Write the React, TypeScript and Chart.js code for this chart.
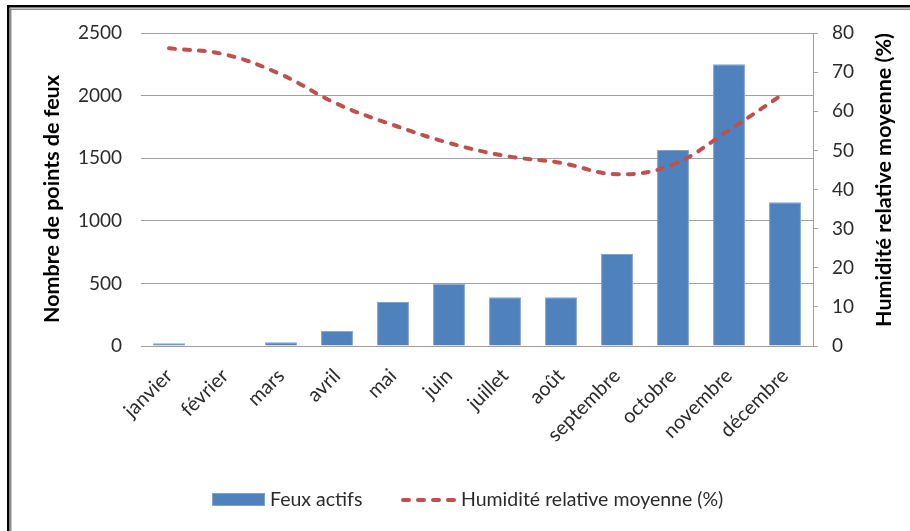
import { useEffect, useRef } from 'react';
import { Chart, registerables } from 'chart.js';

Chart.register(...registerables);

// Monthly data
const months = ['janvier', 'février', 'mars', 'avril', 'mai', 'juin', 'juillet', 'août', 'septembre', 'octobre', 'novembre', 'décembre'];
const activeFires = [22, 0, 30, 122, 351, 497, 390, 390, 735, 1565, 2250, 1148];
const humidity = [76.1, 74.5, 69.4, 61.9, 56.5, 51.9, 48.6, 46.8, 43.9, 46.4, 55.2, 64.7];

// Axis settings
const firesMax = 2500;
const firesStep = 500;
const humidityMax = 80;
const humidityStep = 10;

// Labels
const firesLabel = 'Feux actifs';
const humidityLabel = 'Humidité relative moyenne (%)';
const firesAxisTitle = 'Nombre de points de feux';
const humidityAxisTitle = 'Humidité relative moyenne (%)';

const BAR_COLOR = '#4F81BD';
const LINE_COLOR = '#C0504D';
const GRID_COLOR = '#A0A0A0';
const TEXT_COLOR = '#2B2B2B';
const FONT = 'Lato';

const decorations = {
  id: 'decorations',
  afterDraw(chart: any) {
    const ctx: CanvasRenderingContext2D = chart.ctx;
    const W = chart.width;
    const H = chart.height;
    ctx.save();

    // double frame on the top and left edges
    ctx.fillStyle = '#000000';
    ctx.fillRect(7, 5, W - 7, 2.5);
    ctx.fillRect(7, 5, 2.5, H - 5);
    ctx.fillStyle = '#8C8C8C';
    ctx.fillRect(10, 8.5, W - 10, 1.5);
    ctx.fillRect(10, 8.5, 1.5, H - 8.5);

    // axis titles
    ctx.fillStyle = '#000000';
    ctx.font = `bold 21.5px ${FONT}`;
    ctx.textAlign = 'center';
    ctx.textBaseline = 'middle';
    ctx.save();
    ctx.translate(52, 199);
    ctx.rotate(-Math.PI / 2);
    ctx.fillText(firesAxisTitle, 0, 0);
    ctx.restore();
    ctx.save();
    ctx.translate(884, 180);
    ctx.rotate(-Math.PI / 2);
    ctx.fillText(humidityAxisTitle, 0, 0);
    ctx.restore();

    // legend
    const ly = 500;
    ctx.fillStyle = BAR_COLOR;
    ctx.fillRect(212, ly - 7, 53, 13);
    ctx.strokeStyle = '#7FA3D1';
    ctx.lineWidth = 1;
    ctx.strokeRect(212.5, ly - 6.5, 52, 12);

    ctx.strokeStyle = LINE_COLOR;
    ctx.lineWidth = 4;
    ctx.lineCap = 'round';
    ctx.setLineDash([6, 9]);
    ctx.beginPath();
    ctx.moveTo(403, ly);
    ctx.lineTo(456, ly);
    ctx.stroke();
    ctx.setLineDash([]);

    ctx.fillStyle = TEXT_COLOR;
    ctx.font = `19.5px ${FONT}`;
    ctx.textAlign = 'left';
    ctx.textBaseline = 'middle';
    ctx.fillText(firesLabel, 270, ly);
    ctx.fillText(humidityLabel, 461, ly);
    ctx.restore();
  },
};

export default function App() {
  const canvasRef = useRef<HTMLCanvasElement | null>(null);

  useEffect(() => {
    if (!canvasRef.current) return;
    const chart = new Chart(canvasRef.current, {
      type: 'bar',
      data: {
        labels: months,
        datasets: [
          {
            type: 'line',
            label: humidityLabel,
            data: humidity,
            yAxisID: 'y1',
            borderColor: LINE_COLOR,
            borderWidth: 4,
            borderDash: [6, 9],
            borderCapStyle: 'round',
            tension: 0.4,
            pointRadius: 0,
            fill: false,
            order: 0,
          } as any,
          {
            type: 'bar',
            label: firesLabel,
            data: activeFires,
            yAxisID: 'y',
            backgroundColor: BAR_COLOR,
            borderColor: '#7FA3D1',
            borderWidth: 1,
            barPercentage: 0.57,
            categoryPercentage: 1,
            order: 1,
          },
        ],
      },
      options: {
        responsive: true,
        maintainAspectRatio: false,
        animation: false,
        layout: { padding: { top: 33, left: 0, right: 0, bottom: 0 } },
        plugins: {
          legend: { display: false },
          tooltip: { enabled: false },
        },
        scales: {
          x: {
            grid: { drawOnChartArea: false, drawTicks: false },
            border: { display: true, color: GRID_COLOR, width: 1 },
            ticks: {
              minRotation: 45,
              maxRotation: 45,
              padding: 18,
              color: TEXT_COLOR,
              font: { family: FONT, size: 20 },
            },
            afterFit: (scale: any) => {
              scale.height = 185;
            },
          },
          y: {
            position: 'left',
            min: 0,
            max: firesMax,
            ticks: {
              stepSize: firesStep,
              padding: 19,
              color: TEXT_COLOR,
              font: { family: FONT, size: 19 },
              callback: (value: any) => String(value),
            },
            grid: { color: GRID_COLOR, drawTicks: false },
            border: { display: false },
            afterFit: (scale: any) => {
              scale.width = 141;
            },
          },
          y1: {
            position: 'right',
            min: 0,
            max: humidityMax,
            ticks: {
              stepSize: humidityStep,
              padding: 14,
              color: TEXT_COLOR,
              font: { family: FONT, size: 19 },
              callback: (value: any) => String(value),
            },
            grid: { drawOnChartArea: false, drawTicks: true, tickLength: 5, color: GRID_COLOR },
            border: { display: true, color: GRID_COLOR, width: 1 },
            afterFit: (scale: any) => {
              scale.width = 97;
            },
          },
        },
      },
      plugins: [decorations],
    });
    return () => chart.destroy();
  }, []);

  return (
    <div style={{ position: 'fixed', left: 0, top: 0, width: 910, height: 531, background: '#ffffff' }}>
      <canvas ref={canvasRef} />
    </div>
  );
}
